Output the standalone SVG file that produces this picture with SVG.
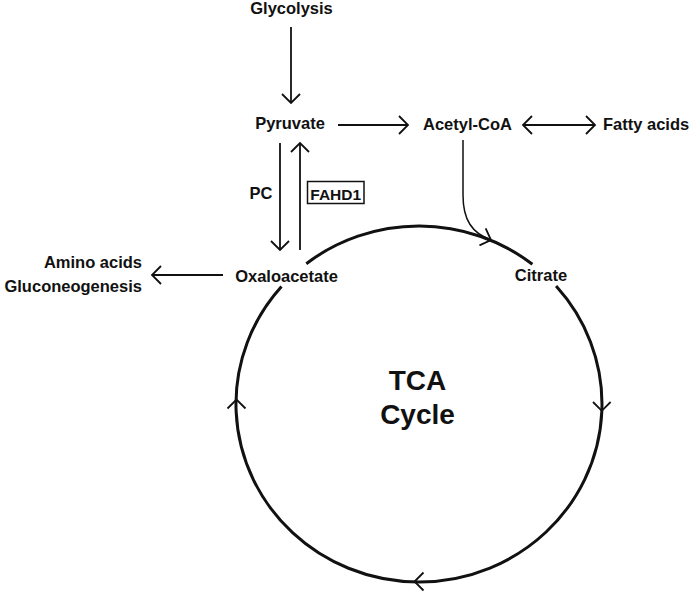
<svg xmlns="http://www.w3.org/2000/svg" width="693" height="592" viewBox="0 0 693 592">
<style>
text{font-family:"Liberation Sans",Arial,sans-serif;font-weight:bold;font-size:16.5px;fill:#111}
.big{font-size:28px}
.ln{fill:none;stroke:#111;stroke-width:1.8}
.cyc{fill:none;stroke:#111;stroke-width:3}
.head{fill:none;stroke:#111;stroke-width:1.8}
</style>
<defs>
<marker id="arr" viewBox="0 0 12 20" refX="10" refY="10" markerWidth="12" markerHeight="20" orient="auto-start-reverse" markerUnits="userSpaceOnUse">
<path d="M1,1 L10,10 L1,19" fill="none" stroke="#111" stroke-width="1.8"/>
</marker>
</defs>
<rect width="693" height="592" fill="#fff"/>
<g id="cycle">
<path class="cyc" d="M306.3,263.7 A183,178 0 0 1 532.4,264.3"/>
<path class="cyc" d="M556.1,286.1 A183,178 0 1 1 281.5,286.5"/>
<path class="head" d="M227.5,408.5 L236.5,399.5 L245.5,408.5"/>
<path class="head" d="M593,402 L601.8,410.8 L610.6,402"/>
<path class="head" d="M423.5,572.5 L414.5,581.5 L423.5,590.5"/>
<text class="big" x="417.5" y="390" text-anchor="middle">TCA</text>
<text class="big" x="417.5" y="424" text-anchor="middle">Cycle</text>
</g>
<g id="connectors">
<path class="ln" d="M291,27 L291,103" marker-end="url(#arr)"/>
<path class="ln" d="M338,125 L408,125" marker-end="url(#arr)"/>
<path class="ln" d="M523,125 L595,125" marker-start="url(#arr)" marker-end="url(#arr)"/>
<path class="ln" d="M280,143 L280,250" marker-end="url(#arr)"/>
<path class="ln" d="M300,250 L300,143" marker-end="url(#arr)"/>
<path class="ln" d="M223,275 L152,275" marker-end="url(#arr)"/>
<path class="ln" style="stroke-width:1.5" d="M463,140 L463,195 C463,220 472,233 491,240" marker-end="url(#arr)"/>
</g>
<g id="glycolysis"><text x="291.5" y="14" text-anchor="middle">Glycolysis</text></g>
<g id="pyruvate"><text x="290" y="129" text-anchor="middle">Pyruvate</text></g>
<g id="acetylcoa"><text x="467.5" y="130" text-anchor="middle">Acetyl-CoA</text></g>
<g id="fattyacids"><text x="603" y="130">Fatty acids</text></g>
<g id="pc"><text x="261" y="199" text-anchor="middle">PC</text></g>
<g id="fahd1"><rect x="307.5" y="181.5" width="56.5" height="22" fill="none" stroke="#111" stroke-width="1.5"/><text x="335.7" y="199.5" text-anchor="middle" style="font-size:15.5px">FAHD1</text></g>
<g id="oxaloacetate"><text x="286.5" y="282" text-anchor="middle">Oxaloacetate</text></g>
<g id="aminoacids"><text x="142" y="268" text-anchor="end">Amino acids</text><text x="142" y="292" text-anchor="end">Gluconeogenesis</text></g>
<g id="citrate"><text x="541" y="281" text-anchor="middle">Citrate</text></g>
</svg>
